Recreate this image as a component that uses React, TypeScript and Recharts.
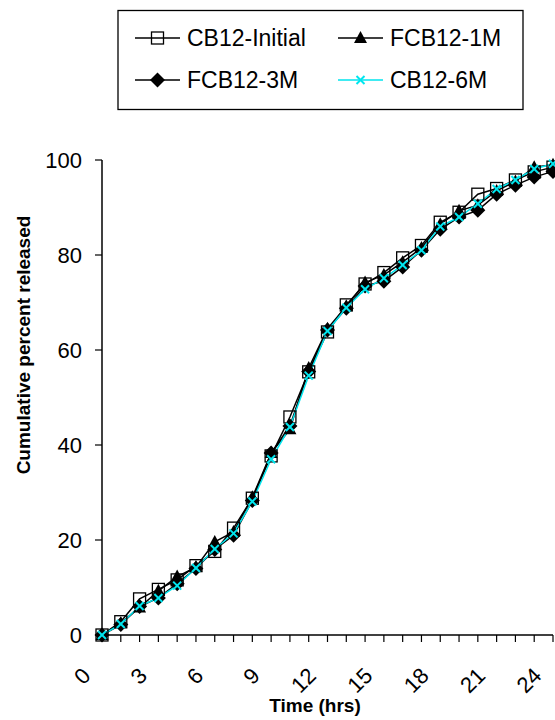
import { LineChart, Line, XAxis, YAxis } from "recharts";

const FONT = "'Liberation Sans', Arial, sans-serif";

const hours = [0, 1, 2, 3, 4, 5, 6, 7, 8, 9, 10, 11, 12, 13, 14, 15, 16, 17, 18, 19, 20, 21, 22, 23, 24];
const cb12Initial = [0, 2.8, 7.6, 9.6, 11.6, 14.6, 17.6, 22.5, 28.8, 37.7, 45.9, 55.4, 63.8, 69.5, 73.9, 76.3, 79.4, 82, 86.9, 89, 92.8, 94, 95.8, 97.5, 98.5];
const fcb12_1M = [0, 2.5, 5.8, 9.3, 12.3, 14.3, 19.6, 21.7, 29, 38.3, 43.3, 56.2, 64.5, 69.2, 74.2, 75.8, 78.5, 81.5, 86.5, 89.3, 90.5, 93.5, 95.5, 98.5, 99];
const fcb12_3M = [0, 2.2, 6.0, 7.8, 10.8, 14.0, 18.0, 21.0, 28.3, 38.3, 44.0, 55.5, 64.2, 68.8, 73.5, 74.5, 77.5, 81, 85.4, 88, 89.4, 92.8, 94.7, 96.4, 97.6];
const cb12_6M = [0, 2.3, 6.1, 7.8, 10.4, 14.1, 18.1, 21.4, 28.1, 37.0, 43.8, 54.6, 64.0, 68.9, 72.8, 75.1, 77.9, 81.0, 86.0, 88.0, 90.8, 93.9, 95.8, 98.1, 99.2];
const yTicks = [0, 20, 40, 60, 80, 100];

const data = hours.map((t, i) => ({
  t,
  initial: cb12Initial[i],
  m1: fcb12_1M[i],
  m3: fcb12_3M[i],
  m6: cb12_6M[i],
}));

// markers
const SquareDot = (p: any) =>
  p.cx == null ? <g key={p.key} /> : (
    <rect key={p.key} x={p.cx - 6} y={p.cy - 6} width={12} height={12} fill="none" stroke="#000" strokeWidth={1.3} />
  );
const TriangleDot = (p: any) =>
  p.cx == null ? <g key={p.key} /> : (
    <polygon key={p.key} points={`${p.cx},${p.cy - 7} ${p.cx - 6.5},${p.cy + 5} ${p.cx + 6.5},${p.cy + 5}`} fill="#000" />
  );
const DiamondDot = (p: any) =>
  p.cx == null ? <g key={p.key} /> : (
    <polygon key={p.key} points={`${p.cx},${p.cy - 7.5} ${p.cx + 7.5},${p.cy} ${p.cx},${p.cy + 7.5} ${p.cx - 7.5},${p.cy}`} fill="#000" />
  );
const CrossDot = (p: any) =>
  p.cx == null ? <g key={p.key} /> : (
    <g key={p.key} stroke="#00e5ee" strokeWidth={2}>
      <line x1={p.cx - 4} y1={p.cy - 4} x2={p.cx + 4} y2={p.cy + 4} />
      <line x1={p.cx - 4} y1={p.cy + 4} x2={p.cx + 4} y2={p.cy - 4} />
    </g>
  );

const XTick = (props: any) => {
  const { x, y, payload } = props;
  if (payload.value % 3 !== 0) return <g />;
  const ax = x - 10;
  const ay = y + 35;
  return (
    <text x={ax} y={ay} transform={`rotate(-45 ${ax} ${ay})`} textAnchor="end" fontSize={22} fill="#000" fontFamily={FONT}>
      {payload.value}
    </text>
  );
};

const legendItems = [
  { name: "CB12-Initial", color: "#000", Dot: SquareDot },
  { name: "FCB12-1M", color: "#000", Dot: TriangleDot },
  { name: "FCB12-3M", color: "#000", Dot: DiamondDot },
  { name: "CB12-6M", color: "#00e5ee", Dot: CrossDot },
];

function LegendBox() {
  return (
    <svg width={407} height={102} style={{ position: "absolute", left: 117, top: 9 }}>
      <rect x={1} y={1.5} width={405} height={99} fill="#fff" stroke="#000" strokeWidth={1.3} />
      {legendItems.map((it, i) => {
        const col = i % 2;
        const row = Math.floor(i / 2);
        const lx = col === 0 ? 18 : 221;
        const cy = row === 0 ? 29 : 71;
        return (
          <g key={it.name}>
            <line x1={lx} y1={cy} x2={lx + 45} y2={cy} stroke={it.color} strokeWidth={1.5} />
            <it.Dot cx={lx + 22.5} cy={cy} key={"d" + i} />
            <text x={lx + 52} y={cy + 8} fontSize={23} fontFamily={FONT} fill="#000">
              {it.name}
            </text>
          </g>
        );
      })}
    </svg>
  );
}

export default function App() {
  return (
    <div style={{ position: "absolute", left: 0, top: 0, width: 555, height: 720, background: "#fff" }}>
      <LineChart width={555} height={720} data={data} margin={{ top: 160, right: 2, bottom: 0, left: 0 }}>
        <XAxis
          dataKey="t"
          type="number"
          domain={[0, 24]}
          ticks={hours}
          interval={0}
          height={85}
          tickSize={7}
          tickMargin={0}
          tick={<XTick />}
          axisLine={{ stroke: "#000", strokeWidth: 1.5 }}
          tickLine={{ stroke: "#000", strokeWidth: 1.2 }}
          label={{
            content: () => (
              <text x={315} y={712} textAnchor="middle" fontSize={19} fontWeight="bold" fontFamily={FONT} fill="#000">
                Time (hrs)
              </text>
            ),
          }}
        />
        <YAxis
          type="number"
          domain={[0, 100]}
          ticks={yTicks}
          width={102}
          tickSize={7}
          tickMargin={13}
          tick={{ fontSize: 22, fill: "#000", fontFamily: FONT }}
          axisLine={{ stroke: "#000", strokeWidth: 1.5 }}
          tickLine={{ stroke: "#000", strokeWidth: 1.2 }}
          label={{
            content: () => (
              <text x={30} y={345} transform="rotate(-90 30 345)" textAnchor="middle" fontSize={19} fontWeight="bold" fontFamily={FONT} fill="#000">
                Cumulative percent released
              </text>
            ),
          }}
        />
        <Line dataKey="initial" stroke="#000" strokeWidth={1.5} dot={SquareDot} isAnimationActive={false} />
        <Line dataKey="m1" stroke="#000" strokeWidth={1.5} dot={TriangleDot} isAnimationActive={false} />
        <Line dataKey="m3" stroke="#000" strokeWidth={1.5} dot={DiamondDot} isAnimationActive={false} />
        <Line dataKey="m6" stroke="#00e5ee" strokeWidth={1.5} dot={CrossDot} isAnimationActive={false} />
      </LineChart>
      <LegendBox />
    </div>
  );
}
